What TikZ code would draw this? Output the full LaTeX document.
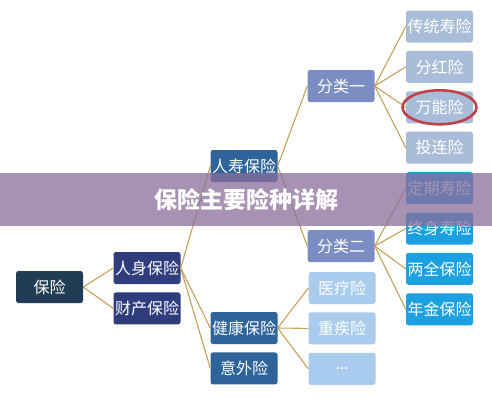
\documentclass[tikz,border=0pt]{standalone}
\usepackage{fontspec}
\newfontfamily\cjk{Noto Sans CJK SC}
\usetikzlibrary{positioning}

\definecolor{rootcol}{HTML}{213D55}
\definecolor{navycol}{HTML}{2F3D7C}
\definecolor{steelcol}{HTML}{2E6499}
\definecolor{periwcol}{HTML}{7B8EC4}
\definecolor{palecol}{HTML}{A8CBEE}
\definecolor{greycol}{HTML}{A9BDD9}
\definecolor{cyancol}{HTML}{1BA1E2}
\definecolor{linkcol}{HTML}{C4A25C}
\definecolor{ringcol}{HTML}{C0404A}
\definecolor{bandcol}{HTML}{8B6E9C}

\begin{document}
\begin{tikzpicture}[
  x=1pt, y=-1pt,
  node distance=8pt,
  box/.style={rounded corners=2.5pt, minimum width=67pt, minimum height=32pt, inner sep=0pt,
    text=white, font=\cjk\fontsize{16}{16}\selectfont},
  link/.style={draw=linkcol, line width=1.1pt},
  ring/.style={draw=ringcol, line width=2.6pt}
]
\useasboundingbox (0,0) rectangle (492,400);
\fill[white] (0,0) rectangle (492,400);

% tree
\node[box, fill=rootcol] (baoxian) at (49.5,287) {保险};
\node[box, fill=navycol] (renshen) at (147,268) {人身保险};
\node[box, fill=navycol, below=of renshen] (caichan) {财产保险};
\node[box, fill=steelcol] (renshou) at (244,166) {人寿保险};
\node[box, fill=steelcol] (jiankang) at (244,328) {健康保险};
\node[box, fill=steelcol, below=of jiankang] (yiwai) {意外险};
\node[box, fill=periwcol] (fenlei1) at (341,86) {分类一};
\node[box, fill=periwcol] (fenlei2) at (341,246) {分类二};
\node[box, fill=palecol] (yiliao) at (342,288) {医疗险};
\node[box, fill=palecol, below=of yiliao] (zhongji) {重疾险};
\node[box, fill=palecol, below=of zhongji] (more) {...};

\node[box, fill=greycol] (chuantong) at (439.5,26.5) {传统寿险};
\node[box, fill=greycol, below=of chuantong] (fenhong) {分红险};
\node[box, fill=greycol, below=of fenhong] (wanneng) {万能险};
\node[box, fill=greycol, below=of wanneng] (toulian) {投连险};
\node[box, fill=cyancol, below=of toulian] (dingqi) {定期寿险};
\node[box, fill=cyancol, below=of dingqi] (zhongshen) {终身寿险};
\node[box, fill=cyancol, below=of zhongshen] (liangquan) {两全保险};
\node[box, fill=cyancol, below=of liangquan] (nianjin) {年金保险};

\foreach \a/\b in {baoxian/renshen, baoxian/caichan,
    renshen/renshou, renshen/jiankang, renshen/yiwai,
    renshou/fenlei1, renshou/fenlei2,
    fenlei1/chuantong, fenlei1/fenhong, fenlei1/wanneng, fenlei1/toulian,
    fenlei2/dingqi, fenlei2/zhongshen, fenlei2/liangquan, fenlei2/nianjin,
    jiankang/yiliao, jiankang/zhongji, jiankang/more}
  \draw[link] (\a.east) -- (\b.west);

\draw[ring] (wanneng.center) ellipse [x radius=37, y radius=17];

% title band
\fill[bandcol, opacity=.75] (0,173) rectangle (492,226);
\node[text=white, font=\cjk\bfseries\fontsize{23}{23}\selectfont] (title) at (246,200) {保险主要险种详解};
\end{tikzpicture}
\end{document}
